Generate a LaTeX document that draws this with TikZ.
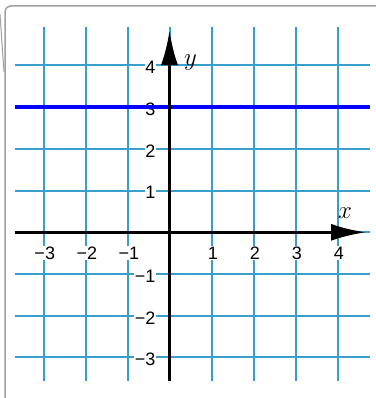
\documentclass[tikz,border=0pt]{standalone}
\usepackage{fontspec}
\setsansfont{Liberation Sans}
\usetikzlibrary{arrows.meta}
\definecolor{gridblue}{RGB}{56,158,204}
\definecolor{framegray}{RGB}{160,160,160}
\tikzset{
  gridline/.style={draw=gridblue, line width=2pt},
  axisline/.style={draw=black, line width=3.4pt, -{Latex[length=35pt,width=17pt]}},
  ticklab/.style={font=\sffamily\fontsize{18}{18}\selectfont, fill=white, inner sep=0.8pt},
  axlab/.style={font=\fontsize{30}{30}\selectfont},
  graphline/.style={draw=blue, line width=4.2pt},
}
\begin{document}
\begin{tikzpicture}[x=1pt,y=-1pt]
\useasboundingbox (0,0) rectangle (375,398);
% frame
\draw[framegray, line width=1.5pt, rounded corners=6pt] (5,400) -- (5,6) -- (377,6);
\draw[framegray, line width=1pt] (0,14) -- (4,72);
\begin{scope}[shift={(169.5,232.3)}, x=42pt, y=41.7pt]
  % grid
  \foreach \k in {-3,...,4} {
    \draw[gridline] (\k,-3.566) -- (\k,4.923);
    \draw[gridline] (-3.679,\k) -- (4.774,\k);
  }
  % axes
  \coordinate (xs) at (-3.679,0);
  \coordinate (xe) at (4.679,0);
  \coordinate (ys) at (0,-3.566);
  \coordinate (ye) at (0,4.851);
  % tick labels
  \foreach \k/\t in {-3/−3,-2/−2,-1/−1,1/1,2/2,3/3,4/4} {
    \node[ticklab] (xt\k) at (\k+0.03,-0.5) {\t};
  }
  \foreach \k/\t in {-3/−3,-2/−2,-1/−1,1/1,2/2,3/3,4/4} {
    \node[ticklab, anchor=east] (yt\k) at (-0.31,\k-0.05) {\t};
  }
  % graph y = 3
  \coordinate (gl) at (-3.679,3);
  \coordinate (gr) at (4.774,3);
  \draw[graphline] (gl) -- (gr);
  \draw[axisline] (xs) -- (xe);
  \draw[axisline] (ys) -- (ye);
  \node[axlab] (xl) at (4.18,0.45) {$x$};
  \node[axlab] (yl) at (0.5,4.07) {$y$};
\end{scope}
\end{tikzpicture}
\end{document}
